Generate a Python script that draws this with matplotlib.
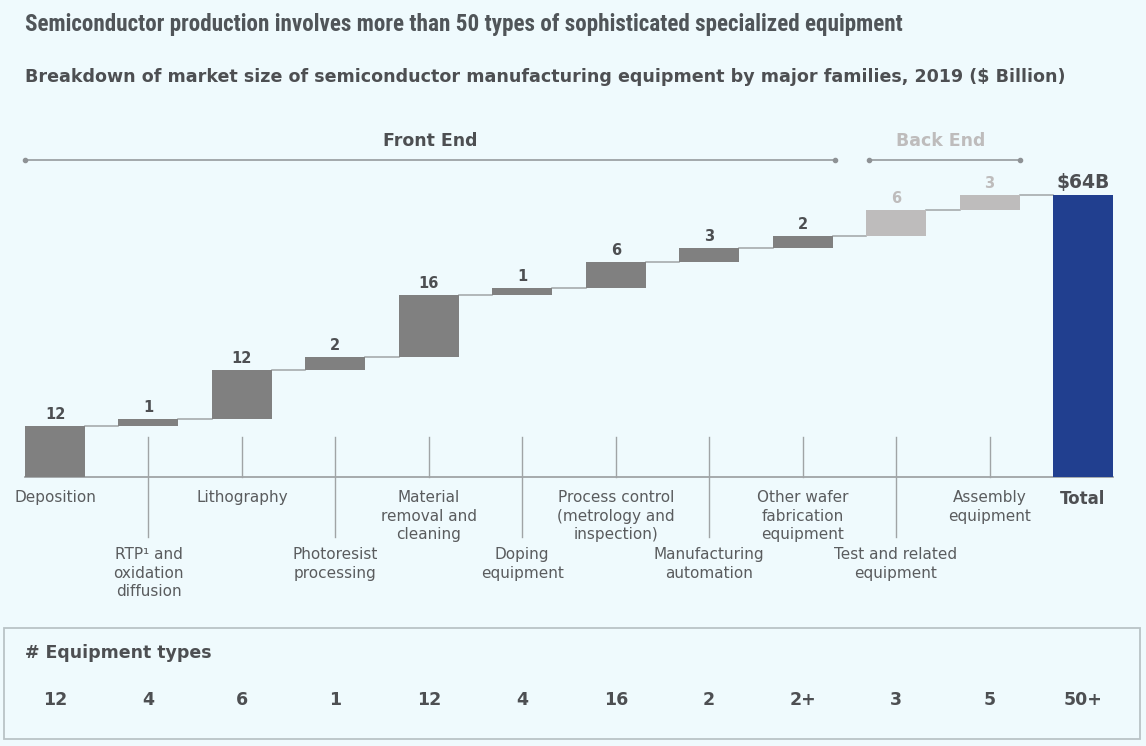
import matplotlib
matplotlib.use("Agg")
import matplotlib.pyplot as plt
from matplotlib.patches import Rectangle

# ---------------- data ----------------
categories = ["Deposition", "RTP\u00b9 and\noxidation\ndiffusion", "Lithography",
              "Photoresist\nprocessing", "Material\nremoval and\ncleaning",
              "Doping\nequipment", "Process control\n(metrology and\ninspection)",
              "Manufacturing\nautomation", "Other wafer\nfabrication\nequipment",
              "Test and related\nequipment", "Assembly\nequipment"]
values = [11.6, 1.6, 11.1, 2.9, 14.2, 1.6, 5.9, 3.2, 2.7, 5.9, 3.3]   # $ Billion (bar heights)
value_labels = ["12", "1", "12", "2", "16", "1", "6", "3", "2", "6", "3"]
segments = ["front"] * 9 + ["back"] * 2
total_value = 64
total_label = "$64B"
total_name = "Total"
equipment_types = ["12", "4", "6", "1", "12", "4", "16", "2", "2+", "3", "5", "50+"]

title = "Semiconductor production involves more than 50 types of sophisticated specialized equipment"
subtitle = "Breakdown of market size of semiconductor manufacturing equipment by major families, 2019 ($ Billion)"

# ---------------- style ----------------
BG = "#EFFAFD"
FRONT = "#808080"
BACK = "#BEBCBC"
TOTAL = "#213F8F"
TXT = "#4D4F52"
LBL = "#5A5C5E"
LINE = "#A0A4A6"
plt.rcParams["font.family"] = ["DejaVu Sans"]

W, H = 1146, 746
fig = plt.figure(figsize=(W / 100, H / 100), dpi=100, facecolor=BG)
ax = fig.add_axes([0, 0, 1, 1])
ax.set_facecolor(BG)
ax.axis("off")
renderer = fig.canvas.get_renderer()

# pixel <-> data mapping
X0, DX = 55.0, 93.45          # pixel centre of first bar, spacing
BASE, UNIT = 477.0, 4.4016    # baseline pixel, pixels per $B
ax.set_xlim(-X0 / DX, (W - X0) / DX)
ax.set_ylim((BASE - H) / UNIT, BASE / UNIT)


def py(p):
    return (BASE - p) / UNIT


def px(p):
    return (p - X0) / DX


def fit_width(t, target_px):
    w = t.get_window_extent(renderer=renderer).width
    t.set_fontsize(t.get_fontsize() * target_px / w)


bw = 60 / DX
n = len(values)
xs = list(range(n))
bottoms, tops = [], []
acc = 0
for v in values:
    bottoms.append(acc)
    acc += v
    tops.append(acc)
colors = [FRONT if s == "front" else BACK for s in segments]

ax.bar(xs, values, bottom=bottoms, width=bw, color=colors, zorder=3)
ax.bar([n], [total_value], width=bw, color=TOTAL, zorder=3)

# connectors
for i in range(n):
    ax.plot([i + bw / 2, i + 1 - bw / 2], [tops[i], tops[i]], color=LINE, lw=1.1, zorder=2)

# baseline
ax.plot([-bw / 2, n + bw / 2], [0, 0], color=LINE, lw=1.3, zorder=2)

# tick lines
for i in range(1, n):
    ymin = py(537) if i % 2 == 1 else 0
    ax.plot([i, i], [ymin, py(437)], color=LINE, lw=1.0, zorder=1)

# value labels
for i in range(n):
    c = TXT if segments[i] == "front" else BACK
    ax.text(i, tops[i] + 7 / UNIT, value_labels[i], ha="center", va="baseline",
            fontsize=10.5, fontweight="bold", color=c)
ax.text(n, total_value + 7 / UNIT, total_label, ha="center", va="baseline",
        fontsize=13.5, fontweight="bold", color=TXT)

# category labels
for i, lab in enumerate(categories):
    ytop = py(490) if i % 2 == 0 else py(547)
    ax.text(i, ytop, lab, ha="center", va="top", fontsize=11, color=LBL,
            linespacing=1.3)
ax.text(n, py(490), total_name, ha="center", va="top", fontsize=12,
        fontweight="bold", color=TXT)

# front / back end brackets
fe = [i for i, s in enumerate(segments) if s == "front"]
be = [i for i, s in enumerate(segments) if s == "back"]
yb = py(160)
ax.plot([fe[0] - bw / 2, fe[-1] + bw / 2 + 0.03], [yb, yb], color="#8E9295", lw=1.1,
        marker="o", markersize=3)
ax.text(px(430), py(141), "Front End", ha="center", va="center", fontsize=12.5,
        fontweight="bold", color=TXT)
ax.plot([be[0] - bw / 2 + 0.03, be[-1] + bw / 2], [yb, yb], color="#8E9295", lw=1.1,
        marker="o", markersize=3)
ax.text(px(941), py(141), "Back End", ha="center", va="center", fontsize=12.5,
        fontweight="bold", color=BACK)

# titles
t1 = fig.text(25 / W, 1 - 24 / H, title, ha="left", va="center", fontsize=16,
              fontweight="bold", color="#505559",
              family=["Liberation Sans Narrow", "DejaVu Sans Condensed",
                      "Roboto Condensed", "Liberation Sans"],
              fontstretch="condensed")
fit_width(t1, 880)
t2 = fig.text(25 / W, 1 - 77 / H, subtitle, ha="left", va="center", fontsize=12.5,
              fontweight="bold", color=TXT)
fit_width(t2, 1037)

# equipment types box
box = Rectangle((4 / W, (H - 739) / H), 1136 / W, 111 / H, transform=fig.transFigure,
                facecolor="none", edgecolor="#B9C3C6", lw=1.3, zorder=0)
fig.patches.append(box)
fig.text(25 / W, 1 - 653 / H, "# Equipment types", ha="left", va="center",
         fontsize=12.5, fontweight="bold", color=TXT)
for i, t in enumerate(equipment_types):
    ax.text(i, py(700), t, ha="center", va="center", fontsize=12.5,
            fontweight="bold", color=TXT)

fig.savefig("out.png", dpi=100, facecolor=BG)
